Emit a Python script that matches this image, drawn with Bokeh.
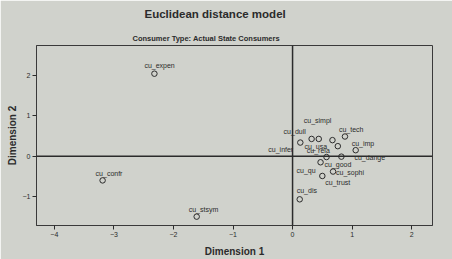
from bokeh.plotting import figure
from bokeh.models import ColumnDataSource, LabelSet, Span, Title
from bokeh.core.properties import value
from bokeh.embed import file_html
from bokeh.resources import INLINE

# ---- data ----
names = ["cu_expen", "cu_confr", "cu_stsym", "cu_dis", "cu_tech", "cu_imp",
         "cu_simpl", "cu_dull", "cu_infer", "cu_usa", "cu_rela", "cu_qu",
         "cu_dange", "cu_good", "cu_sophi", "cu_trust"]
dim1 = [-2.32, -3.19, -1.61, 0.12, 0.88, 1.06,
        0.44, 0.32, 0.13, 0.67, 0.76, 0.57,
        0.82, 0.47, 0.68, 0.50]
dim2 = [2.05, -0.60, -1.50, -1.07, 0.49, 0.15,
        0.43, 0.43, 0.34, 0.40, 0.25, -0.02,
        -0.01, -0.15, -0.38, -0.49]
x_ticks = [-4, -3, -2, -1, 0, 1, 2]
y_ticks = [-1, 0, 1, 2]

# label placement relative to each marker (screen pixels, up = positive)
lab_dx = [-10, -7, -8, -3, -6, -4, -15, -28, -32, -28, -31, -30, 13, 4, 3, 3]
lab_dy = [8, 7, 7, 9, 7, 7, 18, 7, -7, -6, -4, -13, -1, -2, -1, -7]

BG = "#d0d2cc"
INK = "#2b2b2b"
FONT = "Liberation Sans"

src = ColumnDataSource(dict(x=dim1, y=dim2, name=names, dx=lab_dx, dy=lab_dy))

p = figure(width=452, height=259, x_range=(-4.30, 2.35), y_range=(-1.72, 2.75),
           output_backend="svg", toolbar_location=None,
           min_border_left=36, min_border_right=20, min_border_top=45,
           min_border_bottom=31,
           background_fill_color=BG, border_fill_color=BG)

p.add_layout(Title(text="Consumer Type: Actual State Consumers", align="left",
                   offset=96, text_font=FONT, text_font_size="7.5px",
                   text_font_style="bold", text_color=INK, standoff=6), "above")
p.add_layout(Title(text="Euclidean distance model", align="left", offset=108,
                   text_font=FONT, text_font_size="11.5px", text_font_style="bold",
                   text_color=INK, standoff=14, vertical_align="top"), "above")

p.outline_line_color = "#3a3a3a"
p.outline_line_width = 1
p.xgrid.visible = False
p.ygrid.visible = False

for ax, ticks, lab in ((p.xaxis, x_ticks, "Dimension 1"), (p.yaxis, y_ticks, "Dimension 2")):
    ax.ticker = ticks
    ax.axis_label = lab
    ax.axis_label_text_font = FONT
    ax.axis_label_text_font_size = "10px"
    ax.axis_label_text_font_style = "bold"
    ax.axis_label_text_color = INK
    ax.major_label_text_font = FONT
    ax.major_label_text_font_size = "7px"
    ax.major_label_text_color = INK
    ax.major_tick_in = 0
    ax.major_tick_out = 4
    ax.minor_tick_in = 0
    ax.minor_tick_out = 0
    ax.major_tick_line_color = INK
    ax.axis_line_color = "#3a3a3a"
    ax.major_label_standoff = 2
p.xaxis.axis_label_standoff = 6
p.yaxis.axis_label_standoff = 2

p.add_layout(Span(location=0, dimension="height", line_color=INK, line_width=1.5))
p.add_layout(Span(location=0, dimension="width", line_color=INK, line_width=1.5))

p.scatter("x", "y", source=src, marker="circle", size=5.5, fill_color=None,
          line_color=INK, line_width=1)

p.add_layout(LabelSet(x="x", y="y", text="name", source=src, x_offset="dx",
                      y_offset="dy", text_font=value(FONT), text_font_size=value("7px"),
                      text_color=INK, text_align="left", text_baseline="middle"))

open("out.html", "w").write(file_html(p, INLINE))
